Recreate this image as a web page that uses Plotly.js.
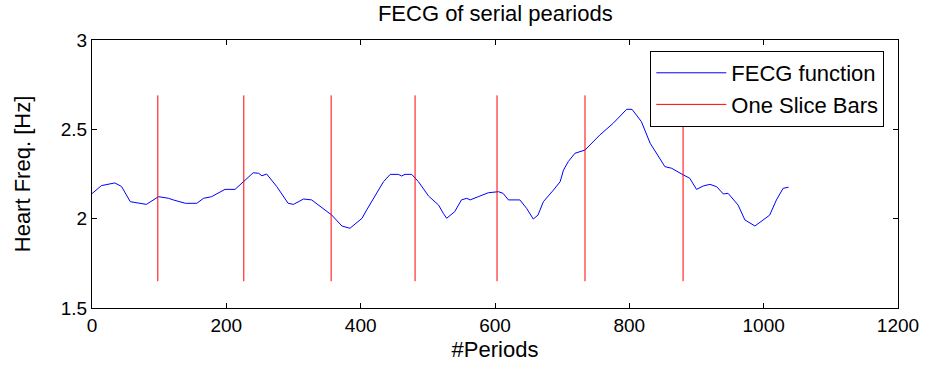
<!DOCTYPE html>
<html>
<head>
<meta charset="utf-8">
<script src="https://cdn.plot.ly/plotly-3.0.1.min.js"></script>
<style>html,body{margin:0;padding:0;background:#fff;}#chart{width:931px;height:375px;}</style>
</head>
<body>
<div id="chart"></div>
<script>
// FECG function samples (period index, heart frequency in Hz)
const periods = [0, 14, 34, 44, 57, 74, 81, 99, 114, 121, 139, 156, 166, 178, 198, 213, 228, 240, 248, 253, 260, 275, 292, 300, 315, 327, 357, 372, 384, 402, 409, 421, 434, 444, 456, 461, 466, 476, 486, 501, 516, 523, 528, 540, 550, 558, 563, 575, 590, 605, 612, 620, 637, 647, 657, 664, 672, 687, 697, 702, 709, 719, 734, 756, 776, 796, 804, 818, 831, 853, 863, 878, 890, 900, 910, 920, 930, 940, 947, 962, 972, 987, 1009, 1019, 1029, 1037];
const freq = [2.14, 2.185, 2.20, 2.18, 2.095, 2.086, 2.08, 2.123, 2.114, 2.105, 2.086, 2.086, 2.114, 2.123, 2.164, 2.164, 2.216, 2.257, 2.254, 2.24, 2.25, 2.18, 2.086, 2.08, 2.11, 2.105, 2.02, 1.959, 1.946, 2.002, 2.049, 2.123, 2.207, 2.248, 2.248, 2.239, 2.248, 2.248, 2.207, 2.127, 2.076, 2.03, 2.002, 2.039, 2.105, 2.114, 2.105, 2.123, 2.145, 2.151, 2.142, 2.105, 2.105, 2.058, 1.998, 2.02, 2.095, 2.16, 2.207, 2.272, 2.319, 2.366, 2.384, 2.468, 2.534, 2.612, 2.612, 2.543, 2.422, 2.291, 2.282, 2.25, 2.226, 2.164, 2.183, 2.192, 2.179, 2.138, 2.142, 2.076, 1.993, 1.959, 2.02, 2.105, 2.17, 2.176];

// One slice bars
const barX = [98, 226, 356, 481, 603, 734, 880];
const barLow = 1.65;
const barHigh = 2.69;

// Axis ticks
const xTicks = [0, 200, 400, 600, 800, 1000, 1200];
const yTicks = [1.5, 2, 2.5, 3];
const yTickText = ['1.5', '2', '2.5', '3'];

const bx = [], by = [];
barX.forEach(v => { bx.push(v, v, null); by.push(barLow, barHigh, null); });

const font = 'Liberation Sans, Arial, Helvetica, sans-serif';

const traces = [
  {x: periods, y: freq, type: 'scatter', mode: 'lines', name: 'FECG function',
   line: {color: '#0000ff', width: 1}},
  {x: bx, y: by, type: 'scatter', mode: 'lines', name: 'One Slice Bars',
   line: {color: '#ff0000', width: 1}, connectgaps: false}
];

const axisCommon = {
  showgrid: false, zeroline: false, showline: true, linecolor: '#000', linewidth: 1,
  mirror: 'ticks', ticks: 'inside', ticklen: 5, tickcolor: '#000', tickwidth: 1,
  tickfont: {family: font, size: 19, color: '#000'}
};

const layout = {
  width: 931, height: 375,
  margin: {l: 92, r: 33, t: 40, b: 67},
  paper_bgcolor: '#fff', plot_bgcolor: '#fff',
  title: {text: 'FECG of serial peariods', font: {family: font, size: 22, color: '#000'},
          x: 0.532, xanchor: 'center', y: 0.965, yanchor: 'middle', yref: 'container'},
  xaxis: Object.assign({}, axisCommon, {
    range: [0, 1200], tickvals: xTicks, ticktext: xTicks.map(String),
    title: {text: '#Periods', font: {family: font, size: 22, color: '#000'}, standoff: 6}
  }),
  yaxis: Object.assign({}, axisCommon, {
    range: [1.5, 3], tickvals: yTicks, ticktext: yTickText,
    title: {text: 'Heart Freq. [Hz]', font: {family: font, size: 22, color: '#000'}, standoff: 24}
  }),
  showlegend: true,
  legend: {x: 0.983, y: 0.959, xanchor: 'right', yanchor: 'top',
           bgcolor: '#fff', bordercolor: '#000', borderwidth: 1,
           font: {family: font, size: 22, color: '#000'},
           tracegroupgap: 0, itemwidth: 70}
};

Plotly.newPlot('chart', traces, layout, {displayModeBar: false, staticPlot: true});
</script>
</body>
</html>
